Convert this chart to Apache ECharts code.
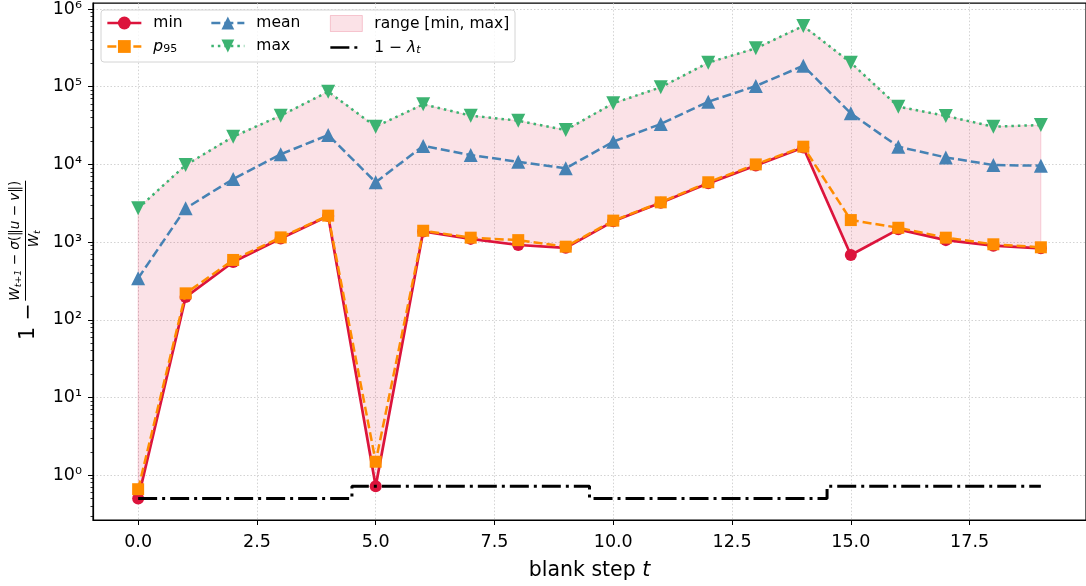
<!DOCTYPE html>
<html>
<head>
<meta charset="utf-8">
<script src="https://cdn.jsdelivr.net/npm/echarts@6/dist/echarts.min.js"></script>
<style>html,body{margin:0;padding:0;background:#fff}#c{width:1086px;height:586px}</style>
</head>
<body>
<div id="c"></div>
<script>
const steps = [0,1,2,3,4,5,6,7,8,9,10,11,12,13,14,15,16,17,18,19];
const minVals  = [0.5, 196, 555, 1110, 2170, 0.72, 1370, 1100, 918, 844, 1850, 3200, 5700, 9700, 16500, 682, 1460, 1060, 899, 832];
const p95Vals  = [0.66, 219, 589, 1150, 2190, 1.49, 1400, 1140, 1060, 873, 1890, 3250, 5890, 10000, 16900, 1920, 1530, 1140, 937, 857];
const meanVals = [342, 2720, 6490, 13500, 23900, 5890, 17300, 13200, 10800, 8910, 19600, 33100, 64100, 102000, 186000, 45400, 16900, 12300, 9820, 9620];
const maxVals  = [2720, 9800, 22700, 42400, 86300, 30600, 59300, 42400, 36500, 27700, 61100, 98200, 203700, 312000, 604000, 203700, 55300, 42000, 30600, 32100];
const lambdaVals = [0.5,0.5,0.5,0.5,0.5, 0.72,0.72,0.72,0.72,0.72, 0.5,0.5,0.5,0.5,0.5, 0.72,0.72,0.72,0.72,0.72];
const xTicks = [0, 2.5, 5, 7.5, 10, 12.5, 15, 17.5];
const yTicks = [1, 10, 100, 1000, 10000, 100000, 1000000];
const yMinorTicks = [];
[0.1,1,10,100,1000,10000,100000].forEach(d => { for (let k = 2; k <= 9; k++) { const v = d*k; if (v > 0.265 && v < 1.19e6) yMinorTicks.push(v); } });

const FONT = 'DejaVu Sans';
const sup = ['⁰','¹','²','³','⁴','⁵','⁶'];
const pairs = arr => steps.map((t,i) => [t, arr[i]]);
const c = echarts.init(document.getElementById('c'), null, {renderer:'canvas'});

const LF = 15.5;
const richLegend = {
  it: {fontFamily: FONT, fontStyle: 'italic', fontSize: LF, color:'#000', lineHeight: 17},
  n: {fontFamily: FONT, fontSize: LF, color:'#000', lineHeight: 17},
  sub: {fontFamily: FONT, fontSize: 11, color:'#000', lineHeight: 11, padding:[6,0,0,0]},
  subi: {fontFamily: FONT, fontSize: 11, fontStyle:'italic', color:'#000', lineHeight: 11, padding:[6,0,0,0]}
};
const legendFmt = name => {
  if (name === 'p95') return '{it|p}{sub|95}';
  if (name === 'lam') return '{n|1 − }{it|λ}{subi|t}';
  return '{n|' + name + '}';
};
const legendBase = {
  orient: 'vertical', padding: 0, itemGap: 7, itemHeight: 16, z: 20,
  selectedMode: false, formatter: legendFmt,
  lineStyle: {width: 2.7},
  textStyle: {fontFamily: FONT, fontSize: LF, color: '#000', padding: [0,0,0,7], rich: richLegend}
};

const option = {
  animation: false,
  backgroundColor: '#fff',
  grid: {left: 93, top: 3, width: 994, height: 517, show: true, borderColor: '#000', borderWidth: 1.2, backgroundColor: 'transparent'},
  xAxis: {
    type: 'value', min: -0.95, max: 19.95,
    name: 'blank step {it|t}', nameLocation: 'middle', nameGap: 40,
    nameTextStyle: {fontFamily: FONT, fontSize: 20.5, color: '#000', rich: {it: {fontFamily: FONT, fontSize: 20.5, fontStyle: 'italic', color: '#000'}}},
    axisLine: {show: true, onZero: false, lineStyle: {color: '#000', width: 1.2}},
    axisTick: {show: true, customValues: xTicks, length: 5, lineStyle: {color: '#000', width: 1}},
    axisLabel: {customValues: xTicks, formatter: v => v.toFixed(1), fontFamily: FONT, fontSize: 17.5, color: '#000', margin: 13},
    splitLine: {show: true, lineStyle: {color: '#c8c8c8', width: 0.8, type: [1.5, 2]}}
  },
  yAxis: [{
    type: 'log', logBase: 10, min: 0.265, max: 1.19e6,
    axisLine: {show: true, onZero: false, lineStyle: {color: '#000', width: 1.2}},
    axisTick: {show: true, customValues: yTicks, length: 5, lineStyle: {color: '#000', width: 1}},
    axisLabel: {customValues: yTicks, formatter: v => '10' + sup[Math.round(Math.log10(v))], fontFamily: FONT, fontSize: 17.5, color: '#000', margin: 11},
    splitLine: {show: true, lineStyle: {color: '#c8c8c8', width: 0.8, type: [1.5, 2]}}
  }, {
    type: 'log', logBase: 10, min: 0.265, max: 1.19e6, position: 'left', offset: 0,
    axisLine: {show: false, onZero: false},
    axisTick: {show: true, customValues: yMinorTicks, length: 2.5, lineStyle: {color: '#000', width: 0.8}},
    axisLabel: {show: false},
    splitLine: {show: false}
  }],
  legend: [
    Object.assign({}, legendBase, {left: 106, top: 15, itemWidth: 34, data: ['min', 'p95']}),
    Object.assign({}, legendBase, {left: 210, top: 15, itemWidth: 33, data: ['mean', 'max']}),
    Object.assign({}, legendBase, {left: 329, top: 15, itemWidth: 32, data: [
      {name: 'range [min, max]', icon: 'rect', itemStyle: {color: 'rgba(220,20,60,0.12)', borderColor: 'rgba(220,20,60,0.2)', borderWidth: 1}},
      {name: 'lam', itemStyle: {opacity: 0}}]})
  ],
  graphic: [
    {type: 'rect', z: 10, shape: {x: 101, y: 10, width: 414, height: 52, r: 3}, style: {fill: 'rgba(255,255,255,0.8)', stroke: '#d4d4d4', lineWidth: 1}},
    {type: 'group', x: 25.5, y: 240.7, rotation: Math.PI/2, z: 10, children: [
      {type: 'line', shape: {x1: -60, y1: 0, x2: 60, y2: 0}, style: {stroke: '#000', lineWidth: 1}},
      {type: 'text', x: 0, y: -10, style: {text: '{it|W}{sub|t+1}{n| − }{it|σ}{n|(‖}{it|u}{n| − }{it|v}{n|‖)}', align: 'center', verticalAlign: 'middle',
        rich: {it: {fontFamily: FONT, fontStyle: 'italic', fontSize: 13.5, fill: '#000', lineHeight: 15}, n: {fontFamily: FONT, fontSize: 13.5, fill: '#000', lineHeight: 15}, sub: {fontFamily: FONT, fontStyle: 'italic', fontSize: 9.5, fill: '#000', lineHeight: 9, padding: [6,0,0,0]}}}},
      {type: 'text', x: 2, y: 9, style: {text: '{it|W}{sub|t}', align: 'center', verticalAlign: 'middle',
        rich: {it: {fontFamily: FONT, fontStyle: 'italic', fontSize: 13.5, fill: '#000', lineHeight: 15}, sub: {fontFamily: FONT, fontStyle: 'italic', fontSize: 9.5, fill: '#000', lineHeight: 9, padding: [6,0,0,0]}}}},
      {type: 'text', x: -81, y: 3, style: {text: '1 −', align: 'center', verticalAlign: 'middle', fontFamily: FONT, fontSize: 20.5, fill: '#000'}}
    ]}
  ],
  series: [
    {
      name: 'range [min, max]', type: 'custom', z: 1, xAxisIndex: 0, yAxisIndex: 0,
      itemStyle: {color: 'rgba(220,20,60,0.12)'},
      data: steps.map((t,i) => [t, minVals[i], maxVals[i]]),
      encode: {x: 0, y: [1, 2]},
      renderItem: (params, api) => {
        if (params.dataIndex !== 0) return null;
        const pts = [];
        for (let i = 0; i < steps.length; i++) pts.push(api.coord([steps[i], maxVals[i]]));
        for (let i = steps.length - 1; i >= 0; i--) pts.push(api.coord([steps[i], minVals[i]]));
        return {type: 'polygon', shape: {points: pts}, style: {fill: 'rgba(220,20,60,0.12)', stroke: 'rgba(220,20,60,0.16)', lineWidth: 1}};
      }
    },
    {name: 'min', type: 'line', z: 3, data: pairs(minVals), color: '#DC143C', symbol: 'circle', symbolSize: 12, showAllSymbol: true,
      lineStyle: {color: '#DC143C', width: 2.7}, itemStyle: {color: '#DC143C'}},
    {name: 'p95', type: 'line', z: 4, data: pairs(p95Vals), color: '#FF8C00', symbol: 'rect', symbolSize: 12, showAllSymbol: true,
      lineStyle: {color: '#FF8C00', width: 2.5, type: [9, 4]}, itemStyle: {color: '#FF8C00'}},
    {name: 'mean', type: 'line', z: 5, data: pairs(meanVals), color: '#4682B4', symbol: 'triangle', symbolSize: 14, showAllSymbol: true,
      lineStyle: {color: '#4682B4', width: 2.5, type: [9, 4]}, itemStyle: {color: '#4682B4'}},
    {name: 'max', type: 'line', z: 6, data: pairs(maxVals), color: '#3CB371', symbol: 'triangle', symbolRotate: 180, symbolSize: 14, showAllSymbol: true,
      lineStyle: {color: '#3CB371', width: 2.5, type: [2.5, 4]}, itemStyle: {color: '#3CB371'}},
    {name: 'lam', type: 'line', z: 7, data: pairs(lambdaVals), step: 'middle', color: '#000', symbol: 'none',
      itemStyle: {color: '#000', opacity: 0},
      lineStyle: {color: '#000', width: 3, type: [19, 5, 3, 5]}}
  ]
};
c.setOption(option);
</script>
</body>
</html>
